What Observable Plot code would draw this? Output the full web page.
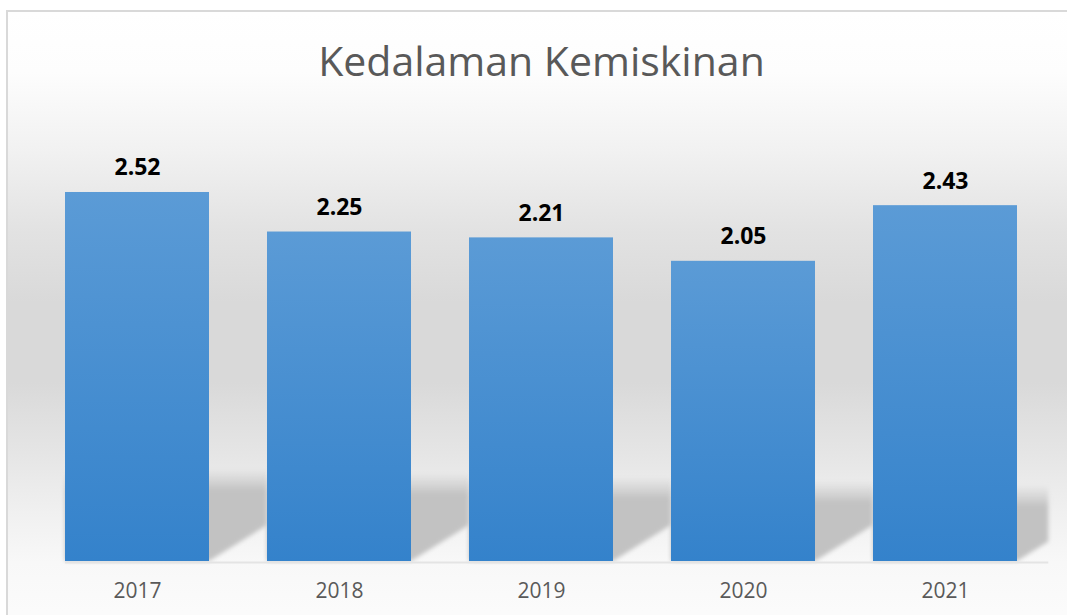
<!DOCTYPE html>
<html>
<head>
<meta charset="utf-8">
<script src="https://cdn.jsdelivr.net/npm/d3@7"></script>
<script src="https://cdn.jsdelivr.net/npm/@observablehq/plot@0.6"></script>
<style>
  html, body { margin: 0; padding: 0; overflow: hidden; background: #ffffff; }
  #wrap { position: relative; width: 1067px; height: 615px; overflow: hidden; }
  #bg {
    position: absolute; left: 6px; top: 10px; width: 1100px; height: 650px;
    border-left: 2px solid #d9d9d9; border-top: 2px solid #d9d9d9;
    background: linear-gradient(to bottom,
      #ffffff 0px, #fdfdfd 60px, #f1f1f1 140px, #e2e2e2 220px, #d9d9d9 290px,
      #d9d9d9 370px, #e5e5e5 440px, #f0f0f0 500px, #f8f8f8 550px, #fbfbfb 600px);
  }
  #title {
    position: absolute; left: 0; width: 1083px; top: 40px; text-align: center;
    font-family: "Open Sans", sans-serif; font-size: 41px; line-height: 41px;
    color: #595959; white-space: nowrap;
  }
  #chart { position: absolute; left: 0; top: 0; }
</style>
</head>
<body>
<svg width="0" height="0" style="position:absolute">
  <defs>
    <linearGradient id="barGrad" x1="0" y1="0" x2="0" y2="1">
      <stop offset="0" stop-color="#5b9bd6"/>
      <stop offset="1" stop-color="#3482cb"/>
    </linearGradient>
    <filter id="shadowBlur" x="-10%" y="-10%" width="120%" height="120%">
      <feGaussianBlur stdDeviation="2"/>
    </filter>
  </defs>
</svg>
<div id="wrap">
  <div id="bg"></div>
  <div id="title">Kedalaman Kemiskinan</div>
  <div id="chart"></div>
</div>
<script>
const years = ["2017", "2018", "2019", "2020", "2021"];
const values = [2.52, 2.25, 2.21, 2.05, 2.43];
const titleText = "Kedalaman Kemiskinan";

const data = years.map((year, i) => ({year, value: values[i]}));

// decorative floor shadow behind the bars, positioned from the scales
function floorShadow(index, scales) {
  const ns = "http://www.w3.org/2000/svg";
  const g = document.createElementNS(ns, "g");
  const x = scales.x, y = scales.y;
  const bw = x.bandwidth(), step = x.step();
  const y0 = y(0);
  const gap = step - bw;
  const defs = document.createElementNS(ns, "defs");
  g.appendChild(defs);
  let lastRight = 0;
  years.forEach((yr, i) => {
    const xl = x(yr), xr = xl + bw;
    const ext = i < years.length - 1 ? gap : gap * 0.54;
    const top = y0 - 92 + i * 4;
    const id = "shGrad" + i;
    const lg = document.createElementNS(ns, "linearGradient");
    lg.setAttribute("id", id);
    lg.setAttribute("gradientUnits", "userSpaceOnUse");
    lg.setAttribute("x1", 0); lg.setAttribute("x2", 0);
    lg.setAttribute("y1", top); lg.setAttribute("y2", top + 22);
    [["0", "#c2c2c2", 0], ["1", "#c2c2c2", 1]].forEach(([o, c, op]) => {
      const s = document.createElementNS(ns, "stop");
      s.setAttribute("offset", o); s.setAttribute("stop-color", c); s.setAttribute("stop-opacity", op);
      lg.appendChild(s);
    });
    defs.appendChild(lg);
    const p = document.createElementNS(ns, "polygon");
    const pts = [[xl, top], [xr + ext, top], [xr + ext, y0 - ext * 0.62], [xr, y0], [xl, y0]];
    p.setAttribute("points", pts.map(d => d.join(",")).join(" "));
    p.setAttribute("fill", `url(#${id})`);
    p.setAttribute("filter", "url(#shadowBlur)");
    g.appendChild(p);
    lastRight = xr + ext;
  });
  const line = document.createElementNS(ns, "line");
  line.setAttribute("x1", x(years[0])); line.setAttribute("x2", lastRight);
  line.setAttribute("y1", y0 + 1.5); line.setAttribute("y2", y0 + 1.5);
  line.setAttribute("stroke", "#e4e4e4"); line.setAttribute("stroke-width", 2);
  g.appendChild(line);
  return g;
}

const chart = Plot.plot({
  width: 1067,
  height: 615,
  marginLeft: 23.65,
  marginRight: 8.4,
  marginTop: 121.7,
  marginBottom: 54,
  style: {background: "transparent", fontFamily: "'Open Sans', sans-serif", color: "#595959", overflow: "visible"},
  x: {domain: years, paddingInner: 0.285, paddingOuter: 0.2, label: null},
  y: {domain: [0, 3], axis: null},
  marks: [
    floorShadow,
    Plot.barY(data, {x: "year", y: "value", fill: "url(#barGrad)"}),
    Plot.text(data, {x: "year", y: "value", text: d => d.value.toFixed(2), lineAnchor: "bottom", dy: -17,
      fontSize: 23, fontWeight: "bold", fill: "#000000"}),
    Plot.axisX({tickSize: 0, tickPadding: 22, fontSize: 21, label: null})
  ]
});
document.getElementById("chart").appendChild(chart);
</script>
</body>
</html>
